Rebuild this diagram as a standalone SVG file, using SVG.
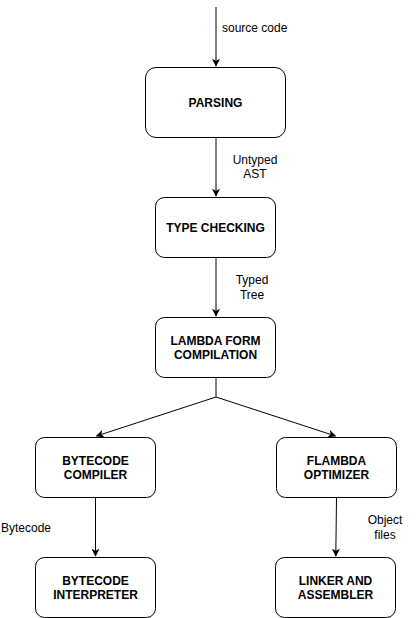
<svg xmlns="http://www.w3.org/2000/svg" width="416" height="618" viewBox="0 0 416 618">
<style>
.box{fill:#fff;stroke:#000;stroke-width:1}
.lbl{font-family:"Liberation Sans",Arial,sans-serif;font-size:12px;font-weight:bold;text-anchor:middle;fill:#000}
.el{font-family:"Liberation Sans",Arial,sans-serif;font-size:12px;fill:#000}
.edge{fill:none;stroke:#000;stroke-width:1}
</style>
<defs>
<marker id="arr" viewBox="0 0 10 10" refX="9" refY="5" markerWidth="8" markerHeight="8" markerUnits="userSpaceOnUse" orient="auto">
<path d="M0,0 L10,5 L0,10 L2.5,5 Z" fill="#000"/>
</marker>
</defs>
<rect width="416" height="618" fill="#fff"/>
<g id="connectors">
<path class="edge" d="M216,7 V66" marker-end="url(#arr)"/>
<path class="edge" d="M216,137.5 V196" marker-end="url(#arr)"/>
<path class="edge" d="M216,257.5 V316" marker-end="url(#arr)"/>
<path class="edge" d="M216,377.5 V397 L96.5,436" marker-end="url(#arr)"/>
<path class="edge" d="M216,397 L335.5,436" marker-end="url(#arr)"/>
<path class="edge" d="M95.5,497.5 V556" marker-end="url(#arr)"/>
<path class="edge" d="M336.5,497.5 L335.8,556" marker-end="url(#arr)"/>
<text class="el" x="222" y="32">source code</text>
<text class="el" x="255" y="164" text-anchor="middle">Untyped</text>
<text class="el" x="255" y="178" text-anchor="middle">AST</text>
<text class="el" x="252" y="284" text-anchor="middle">Typed</text>
<text class="el" x="252" y="299" text-anchor="middle">Tree</text>
<text class="el" x="1" y="532">Bytecode</text>
<text class="el" x="385" y="524" text-anchor="middle">Object</text>
<text class="el" x="385" y="539" text-anchor="middle">files</text>
</g>
<g id="parsing"><rect class="box" x="145.5" y="67.5" width="140" height="70" rx="10.5"/><text class="lbl" x="215.5" y="107">PARSING</text></g>
<g id="typecheck"><rect class="box" x="155.5" y="197.5" width="120" height="60" rx="9"/><text class="lbl" x="215.5" y="232">TYPE CHECKING</text></g>
<g id="lambda"><rect class="box" x="155.5" y="317.5" width="120" height="60" rx="9"/><text class="lbl" x="215.5" y="345">LAMBDA FORM</text><text class="lbl" x="215.5" y="359">COMPILATION</text></g>
<g id="bytecode-compiler"><rect class="box" x="35.5" y="437.5" width="120" height="60" rx="9"/><text class="lbl" x="95.5" y="465">BYTECODE</text><text class="lbl" x="95.5" y="479">COMPILER</text></g>
<g id="flambda"><rect class="box" x="276.5" y="437.5" width="120" height="60" rx="9"/><text class="lbl" x="336.5" y="465">FLAMBDA</text><text class="lbl" x="336.5" y="479">OPTIMIZER</text></g>
<g id="bytecode-interpreter"><rect class="box" x="35.5" y="557.5" width="120" height="60" rx="9"/><text class="lbl" x="95.5" y="585">BYTECODE</text><text class="lbl" x="95.5" y="599">INTERPRETER</text></g>
<g id="linker"><rect class="box" x="275.5" y="557.5" width="120" height="60" rx="9"/><text class="lbl" x="335.5" y="585">LINKER AND</text><text class="lbl" x="335.5" y="599">ASSEMBLER</text></g>
</svg>
